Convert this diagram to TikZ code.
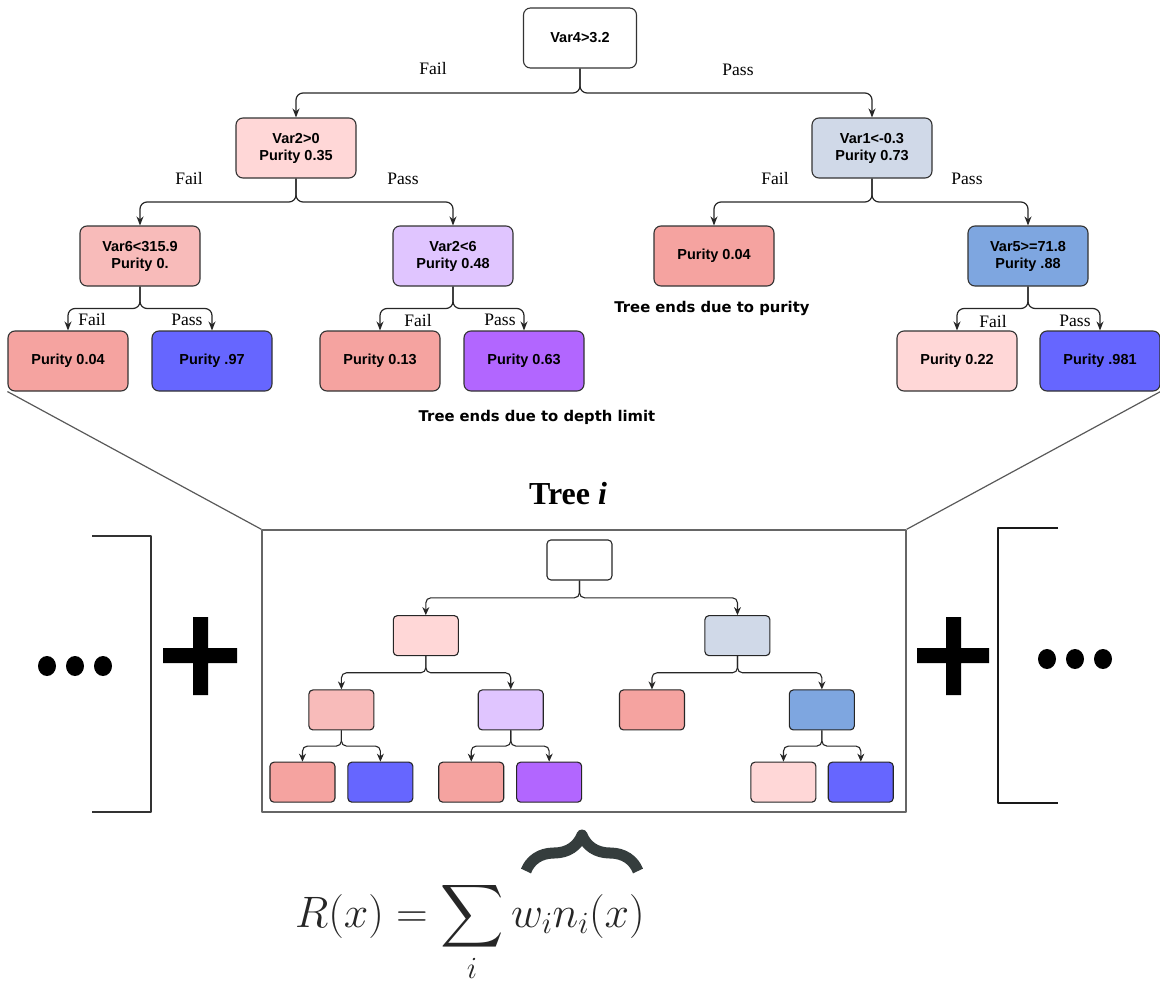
\RequirePackage{fix-cm}
\documentclass[tikz,border=0pt]{standalone}
\usepackage{fontspec}
\setmainfont{Liberation Serif}
\newfontfamily\boxfont{Liberation Sans}
\newfontfamily\notefont{DejaVu Sans}
\usetikzlibrary{calc,arrows.meta,decorations.pathreplacing}
\DeclareFontShape{OMX}{cmex}{m}{n}{<-7.5> cmex7 <7.5-8.5> cmex8 <8.5-9.5> cmex9 <9.5-> cmex10}{}
\definecolor{pinkc}{HTML}{FFD7D7}
\definecolor{greyc}{HTML}{D0D9E8}
\definecolor{rosec}{HTML}{F8BBBA}
\definecolor{lilacc}{HTML}{E0C5FF}
\definecolor{redc}{HTML}{F5A3A0}
\definecolor{cornc}{HTML}{7EA6E0}
\definecolor{bluec}{HTML}{6666FF}
\definecolor{purpc}{HTML}{B266FF}
\definecolor{bracec}{HTML}{353D3D}
\def\treenodes{a/296/148/pinkc/{Var2>0\\Purity 0.35}, b/872/148/greyc/{Var1<-0.3\\Purity 0.73},
  c/140/256/rosec/{Var6<315.9\\Purity 0.}, d/453/256/lilacc/{Var2<6\\Purity 0.48},
  e/714/256/redc/{Purity 0.04}, f/1028/256/cornc/{Var5>=71.8\\Purity .88},
  g/68/361/redc/{Purity 0.04}, h/212/361/bluec/{Purity .97},
  k/380/361/redc/{Purity 0.13}, m/524/361/purpc/{Purity 0.63},
  n/957/361/pinkc/{Purity 0.22}, p/1100/361/bluec/{Purity .981}}
\def\treeedges{r/a,r/b,a/c,a/d,b/e,b/f,c/g,c/h,d/k,d/m,f/n,f/p}
\begin{document}
\begin{tikzpicture}[x=1pt,y=-1pt,line join=round,
    tbox/.style={draw=black!80,line width=1.1pt,rounded corners=7pt,minimum width=120pt,minimum height=60pt,
      align=center,font=\boxfont\bfseries\fontsize{14.5}{17}\selectfont},
    mbox/.style={draw=black!85,line width=1.1pt,rounded corners=4pt,minimum width=65pt,minimum height=40pt},
    branch/.style={draw=black!85,line width=1.2pt,-{Stealth[length=9pt,width=7pt]},rounded corners=7pt,
      to path={(\tikztostart) |- ($(\tikztostart)!.5!(\tikztotarget)$) -| (\tikztotarget)}},
    minibranch/.style={branch,-{Stealth[length=8pt,width=7pt]},line width=1.1pt,rounded corners=5pt},
    edgelab/.style={font=\fontsize{17.5}{20}\selectfont,inner sep=0pt},
    note/.style={font=\notefont\bfseries\fontsize{14.8}{17}\selectfont}]
\useasboundingbox (0,0) rectangle (1160,988);
\node[tbox,minimum width=113pt] (r) at (580,38) {Var4>3.2};
\foreach \n/\x/\y/\c/\t in \treenodes
  \node[tbox,fill=\c] (\n) at (\x,\y) {\t};
\foreach \u/\v in \treeedges
  \draw[branch] (\u.south) to (\v.north);
\foreach \n/\x/\y/\t in {fr/433/69/Fail,pr/738/70/Pass,fa/189/179/Fail,pa/403/179/Pass,
    fb/775/179/Fail,pb/967/179/Pass,fc/92/320/Fail,pc/187/320/Pass,
    fd/418/321/Fail,pd/500/320/Pass,ff/993/322/Fail,pf/1075/321/Pass}
  \node[edgelab] (\n) at (\x,\y) {\t};
\node[note] (purenote) at (712,308) {Tree ends due to purity};
\node[note] (depthnote) at (537,417) {Tree ends due to depth limit};

\node[font=\bfseries\fontsize{32}{36}\selectfont] (title) at (568,494) {Tree \textit{i}};
\node[draw=black!60,line width=1.5pt,minimum width=644pt,minimum height=282pt] (frame) at (584,671) {};
\draw[black!65,line width=1.2pt] (g.south west) -- (frame.north west) (p.south east) -- (frame.north east);
\begin{scope}[shift={(270,540)},xscale=.541,yscale=.688,shift={(-8,-9)}]
  \node[mbox,fill=white] (mr) at (580,38) {};
  \foreach \n/\x/\y/\c/\t in \treenodes
    \node[mbox,fill=\c] (m\n) at (\x,\y) {};
  \foreach \u/\v in \treeedges
    \draw[minibranch] (m\u.south) to (m\v.north);
\end{scope}

\draw[black!80,line width=2pt] (92,536) -| (151,812) -- (92,812);
\draw[black!90,line width=2pt] (1058,528) -| (998,803) -- (1058,803);
\foreach \x in {47,75,103} \fill (\x,666) ellipse (9 and 10);
\foreach \x in {1047,1075,1103} \fill (\x,659) ellipse (9 and 10);
\fill (163,648) rectangle (237,663) (193,617) rectangle (208,695);
\fill (917,648) rectangle (989,663) (946,617) rectangle (961,695);

\node[anchor=base west,inner sep=0pt,text=black!85,font=\fontsize{44}{52}\selectfont] (formula) at (295,927)
  {$\displaystyle R(x)=\sum_i w_i n_i(x)$};
\draw[bracec,line width=11pt,decorate,decoration={brace,amplitude=36pt}] (526,871) -- (638,871);
\end{tikzpicture}
\end{document}
